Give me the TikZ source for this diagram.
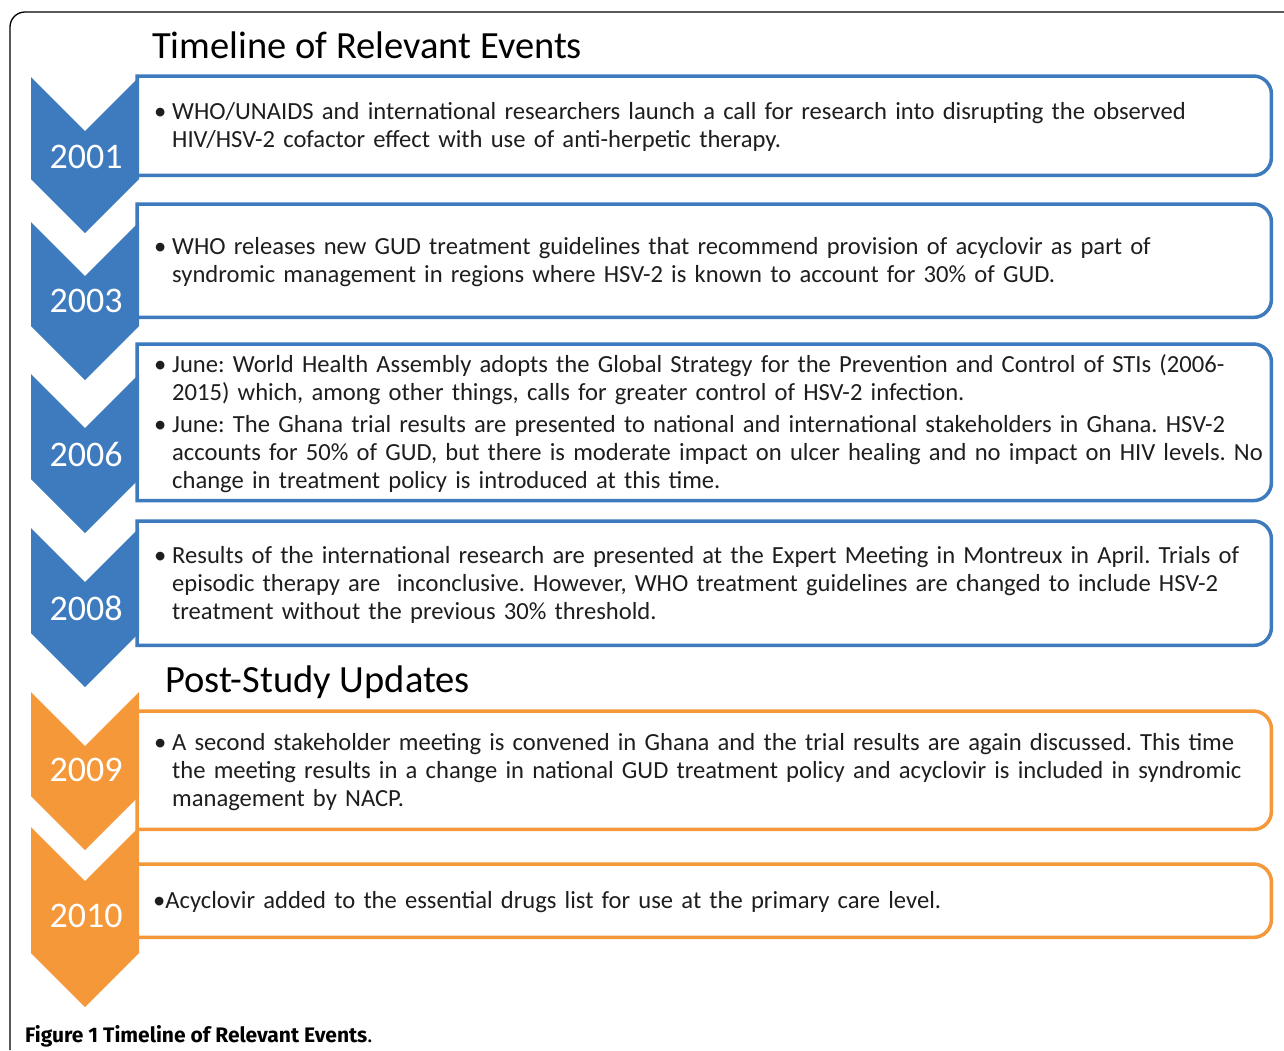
\documentclass[tikz,border=0pt]{standalone}
\usepackage{fontspec}
\setmainfont{Carlito}
\newfontfamily\capfont{Fira Sans}
\definecolor{tlblue}{RGB}{62,122,190}
\definecolor{tlorange}{RGB}{245,152,58}
\definecolor{ink}{RGB}{30,30,30}
% one bulleted entry, later lines hang under the text
\newcommand\evitem[1]{\par\leftskip=15pt\hangindent=18pt\hangafter=1\noindent
  \makebox[18pt][l]{\textbullet}#1\par}
% a little room under the text, so it sits a bit high in its box
\newcommand\evpad{\par\vspace{8pt}\hrule height 0pt}
% open on the left, rounded on the right
\newcommand\evframe[2]{%
  \draw[line width=3.5pt,#2] (#1.north west) -- ([xshift=-18pt]#1.north east)
    arc[start angle=90,end angle=0,radius=18pt] -- ([yshift=18pt]#1.south east)
    arc[start angle=0,end angle=-90,radius=18pt] -- (#1.south west) -- cycle;}
\begin{document}
\begin{tikzpicture}[x=1pt,y=1pt,line join=miter,
  evtext/.style={anchor=north west,inner xsep=2pt,inner ysep=0pt,
    minimum width=1134pt,text width=1130pt,align=left,text=ink,
    font=\fontsize{24.6}{28}\selectfont\frenchspacing,
    execute at end node=\evpad},
  year/.style={text=white,inner sep=0pt,font=\fontsize{36}{42}\selectfont},
  heading/.style={anchor=base west,inner sep=0pt,text=black,
    font=\fontsize{38.5}{44}\selectfont}]
\useasboundingbox (0,0) rectangle (1284,-1050);
\fill[white] (0,0) rectangle (1284,-1050);
% outer frame
\draw[line width=1.3pt] (10,-1050) -- (10,-27)
  arc[start angle=180,end angle=90,radius=15pt] -- (1284,-12);
\node[heading] (ttl) at (152,-58) {Timeline of Relevant Events};
\node[heading] (post) at (165,-692) {Post-Study Updates};
% event boxes
\node[evtext,minimum height=99pt] (e01) at (137,-76) {%
  \evitem{WHO/UNAIDS and international researchers launch a call for research into disrupting the observed\newline
  HIV/HSV-2 cofactor effect with use of anti-herpetic therapy.}};
\node[evtext,minimum height=113pt] (e03) at (137,-204) {%
  \evitem{WHO releases new GUD treatment guidelines that recommend provision of acyclovir as part of\newline
  syndromic management in regions where HSV-2 is known to account for 30\% of GUD.}};
\node[evtext,minimum height=154pt] (e06) at (137,-344) {%
  \evitem{June: World Health Assembly adopts the Global Strategy for the Prevention and Control of STIs (2006-\newline
  2015) which, among other things, calls for greater control of HSV-2 infection.}\vspace{4pt}
  \evitem{June: The Ghana trial results are presented to national and international stakeholders in Ghana. HSV-2\newline
  accounts for 50\% of GUD, but there is moderate impact on ulcer healing and no impact on HIV levels. No\newline
  change in treatment policy is introduced at this time.}};
\node[evtext,minimum height=124pt] (e08) at (137,-521) {%
  \evitem{Results of the international research are presented at the Expert Meeting in Montreux in April. Trials of\newline
  episodic therapy are \ inconclusive. However, WHO treatment guidelines are changed to include HSV-2\newline
  treatment without the previous 30\% threshold.}};
\node[evtext,minimum height=118pt] (e09) at (137,-711) {%
  \evitem{A second stakeholder meeting is convened in Ghana and the trial results are again discussed. This time\newline
  the meeting results in a change in national GUD treatment policy and acyclovir is included in syndromic\newline
  management by NACP.}};
\node[evtext,minimum height=73pt] (e10) at (137,-864) {%
  \par\leftskip=14pt\noindent\textbullet Acyclovir added to the essential drugs list for use at the primary care level.\par};
\evframe{e01}{tlblue}
\evframe{e03}{tlblue}
\evframe{e06}{tlblue}
\evframe{e08}{tlblue}
\evframe{e09}{tlorange}
\evframe{e10}{tlorange}
% chevrons
\fill[tlblue] (31,-77) -- (85,-131) -- (139,-77) -- (139,-179) -- (85,-233) -- (31,-179) -- cycle;
\fill[tlblue] (31,-222) -- (85,-276) -- (139,-222) -- (139,-326) -- (85,-380) -- (31,-326) -- cycle;
\fill[tlblue] (31,-374) -- (85,-428) -- (139,-374) -- (139,-479) -- (85,-533) -- (31,-479) -- cycle;
\fill[tlblue] (31,-528) -- (85,-582) -- (139,-528) -- (139,-633) -- (85,-687) -- (31,-633) -- cycle;
\fill[tlorange] (31,-692) -- (85,-746) -- (139,-692) -- (139,-796) -- (85,-850) -- (31,-796) -- cycle;
\fill[tlorange] (31,-827) -- (85,-881) -- (139,-827) -- (139,-953) -- (85,-1007) -- (31,-953) -- cycle;
\node[year] (y01) at (86,-157) {2001};
\node[year] (y03) at (86,-301) {2003};
\node[year] (y06) at (86,-454) {2006};
\node[year] (y08) at (86,-608) {2008};
\node[year] (y09) at (86,-770) {2009};
\node[year] (y10) at (86,-916) {2010};
% caption
\node[anchor=base west,inner sep=0pt,font=\capfont\fontsize{21}{24}\selectfont] (cap)
  at (25,-1042) {\textbf{Figure 1 Timeline of Relevant Events}.};
\end{tikzpicture}
\end{document}
